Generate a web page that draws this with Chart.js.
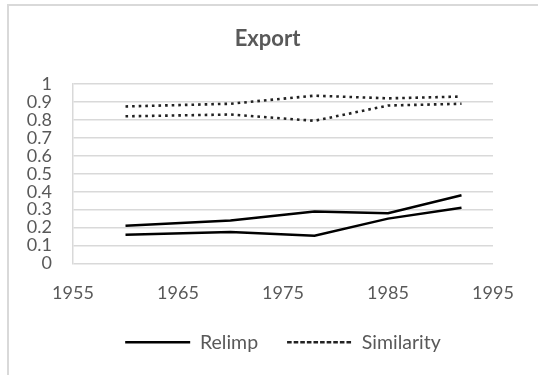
<!DOCTYPE html>
<html>
<head>
<meta charset="utf-8">
<script src="https://cdn.jsdelivr.net/npm/chart.js@4/dist/chart.umd.min.js"></script>
<style>
  html, body { margin: 0; padding: 0; background: #fff; }
  #wrap { position: relative; width: 538px; height: 375px; overflow: hidden; }
  #frame { position: absolute; left: 7px; top: 4px; width: 600px; height: 400px;
           border-left: 2px solid #d9d9d9; border-top: 2px solid #d9d9d9; }
  canvas { position: absolute; left: 0; top: 0; }
</style>
</head>
<body>
<div id="wrap">
  <div id="frame"></div>
  <canvas id="c" width="538" height="375"></canvas>
</div>
<script>
const chartTitle = 'Export';
const years = [1960, 1970, 1978, 1985, 1992];
const relimpA = [0.21, 0.24, 0.29, 0.28, 0.38];
const relimpB = [0.16, 0.175, 0.155, 0.25, 0.31];
const similarityA = [0.875, 0.89, 0.935, 0.92, 0.93];
const similarityB = [0.82, 0.83, 0.795, 0.88, 0.89];
const seriesNames = ['Relimp', 'Similarity'];
const xTickLabels = ['1955', '1965', '1975', '1985', '1995'];
const xTickValues = [1955, 1965, 1975, 1985, 1995];
const yTickLabels = ['0', '0.1', '0.2', '0.3', '0.4', '0.5', '0.6', '0.7', '0.8', '0.9', '1'];

const pts = arr => arr.map((v, i) => ({ x: years[i], y: v }));
const textColor = '#595959';
const gridColor = '#d9d9d9';
const solid = { borderColor: '#000', backgroundColor: 'rgba(0,0,0,0)', borderWidth: 2.5, pointRadius: 0, tension: 0, fill: false };
const dotted = { borderColor: '#222', backgroundColor: 'rgba(0,0,0,0)', borderWidth: 2.6, borderDash: [2.6, 4], pointRadius: 0, tension: 0, fill: false };

new Chart(document.getElementById('c'), {
  type: 'line',
  data: {
    datasets: [
      Object.assign({ label: seriesNames[0], data: pts(relimpA) }, solid),
      Object.assign({ label: seriesNames[1], data: pts(similarityA) }, dotted),
      Object.assign({ label: seriesNames[0], data: pts(relimpB) }, solid),
      Object.assign({ label: seriesNames[1], data: pts(similarityB) }, dotted)
    ]
  },
  options: {
    responsive: false,
    animation: false,
    layout: { padding: { left: 10, right: 13, top: 0, bottom: 13 } },
    plugins: {
      tooltip: { enabled: false },
      title: {
        display: true, text: chartTitle, color: textColor,
        font: { family: 'Lato', size: 22, weight: 'bold' },
        padding: { top: 25.8, bottom: 31.8 }
      },
      legend: {
        position: 'bottom', fullSize: false,
        labels: {
          filter: item => item.datasetIndex < 2,
          boxWidth: 65, boxHeight: 0,
          color: textColor, padding: 29,
          font: { family: 'Lato', size: 19.5 }
        }
      }
    },
    scales: {
      x: {
        type: 'linear', min: 1955, max: 1995,
        afterBuildTicks: s => { s.ticks = xTickValues.map(v => ({ value: v })); },
        afterFit: s => { s.height = 40; },
        grid: { display: false, drawTicks: false },
        border: { display: false },
        ticks: {
          padding: 19, color: textColor, font: { family: 'Lato', size: 18 },
          maxRotation: 0, autoSkip: false,
          callback: (v, i) => xTickLabels[i]
        }
      },
      y: {
        min: 0, max: 1,
        afterBuildTicks: s => { s.ticks = yTickLabels.map(t => ({ value: parseFloat(t) })); },
        afterFit: s => { s.width = 63; },
        grid: { color: gridColor, lineWidth: 1.5, drawTicks: false },
        border: { display: true, color: gridColor, width: 1.5 },
        ticks: {
          padding: 21, color: textColor, font: { family: 'Lato', size: 18 },
          autoSkip: false,
          callback: (v, i) => yTickLabels[i]
        }
      },
      yRight: {
        type: 'linear', position: 'right', min: 0, max: 1,
        afterFit: s => { s.width = 32; },
        grid: { display: false, drawTicks: false },
        border: { display: false },
        ticks: { display: false }
      }
    }
  }
});
</script>
</body>
</html>
